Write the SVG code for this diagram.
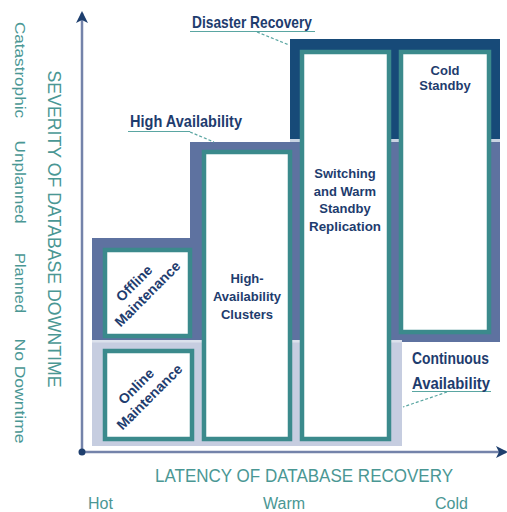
<svg xmlns="http://www.w3.org/2000/svg" width="507" height="512" viewBox="0 0 507 512">
<defs>
<marker id="arr" viewBox="0 0 12 12" refX="10" refY="6" markerWidth="12" markerHeight="12" markerUnits="userSpaceOnUse" orient="auto">
<path d="M0,0 L12,6 L0,12 L3,6 Z" fill="#1e3f6e"/>
</marker>
</defs>
<style>
.box{fill:#ffffff;stroke:#3b8a8c;stroke-width:4.5}
.ax{font-family:"Liberation Sans",Arial,sans-serif;fill:#4a9794}
.lbl{font-family:"Liberation Sans",Arial,sans-serif;font-weight:bold;fill:#1e3c6e;font-size:17px}
.nt{font-family:"Liberation Sans",Arial,sans-serif;font-weight:bold;fill:#1e3c6e;font-size:13px;text-anchor:middle}
.rt{font-family:"Liberation Sans",Arial,sans-serif;font-weight:bold;fill:#1e3c6e;font-size:14px;text-anchor:middle}
.ul{stroke:#5aa6a2;stroke-width:1.2;fill:none}
.ld{stroke:#5aa6a2;stroke-width:1.2;fill:none;stroke-dasharray:3 2}
</style>
<!-- background bands -->
<g id="bands">
<rect x="92" y="342" width="310" height="104" fill="#c6cde0"/>
<path d="M92,238 H190 V142 H290 V140 H500 V342 H92 Z" fill="#5e72a0"/>
<rect x="290" y="39" width="210" height="101" fill="#174a78"/>
<rect x="290" y="139" width="210" height="3" fill="#c9d3e2"/>
<rect x="92" y="340" width="310" height="2.5" fill="#dbe1ec"/>
</g>
<!-- axes -->
<g id="connectors">
<line x1="82" y1="452" x2="82" y2="13" stroke="#7483aa" stroke-width="2.5" marker-end="url(#arr)"/>
<line x1="82" y1="452" x2="506" y2="452" stroke="#7483aa" stroke-width="2.5" marker-end="url(#arr)"/>
<circle cx="82" cy="452" r="3.5" fill="#1e3f6e"/>
<line class="ul" x1="190" y1="31.5" x2="315" y2="31.5"/>
<line class="ld" x1="257" y1="32" x2="289" y2="45"/>
<line class="ul" x1="128" y1="131.5" x2="190" y2="131.5"/>
<line class="ld" x1="190" y1="132" x2="214" y2="142"/>
<line class="ul" x1="412" y1="391.5" x2="491" y2="391.5"/>
<line class="ld" x1="447" y1="392" x2="403" y2="407"/>
</g>
<!-- nodes -->
<g id="offline">
<rect class="box" x="105" y="250" width="85" height="86"/>
<g transform="translate(146,291) rotate(-45)">
<text class="rt" x="-3" y="-9">Offline</text>
<text class="rt" x="-1" y="8" textLength="86" lengthAdjust="spacingAndGlyphs">Maintenance</text>
</g>
</g>
<g id="online">
<rect class="box" x="105" y="351" width="87" height="88"/>
<g transform="translate(148,394) rotate(-45)">
<text class="rt" x="-3" y="-9">Online</text>
<text class="rt" x="-1" y="8" textLength="86" lengthAdjust="spacingAndGlyphs">Maintenance</text>
</g>
</g>
<g id="ha-clusters">
<rect class="box" x="204" y="152" width="86" height="287"/>
<text class="nt" x="247" y="283">High-</text>
<text class="nt" x="247" y="301">Availability</text>
<text class="nt" x="247" y="319">Clusters</text>
</g>
<g id="switching">
<rect class="box" x="302" y="52" width="87" height="387"/>
<text class="nt" x="345" y="178">Switching</text>
<text class="nt" x="345" y="195.5">and Warm</text>
<text class="nt" x="345" y="213">Standby</text>
<text class="nt" x="345" y="230.5" textLength="72" lengthAdjust="spacingAndGlyphs">Replication</text>
</g>
<g id="cold-standby">
<rect class="box" x="401" y="52" width="88" height="280"/>
<text class="nt" x="445" y="75">Cold</text>
<text class="nt" x="445" y="90">Standby</text>
</g>
<!-- labels -->
<g id="labels">
<text class="lbl" x="192" y="28" textLength="120" lengthAdjust="spacingAndGlyphs">Disaster Recovery</text>
<text class="lbl" x="130" y="127" textLength="112" lengthAdjust="spacingAndGlyphs">High Availability</text>
<text class="lbl" x="412" y="364" textLength="77" lengthAdjust="spacingAndGlyphs">Continuous</text>
<text class="lbl" x="412" y="389" textLength="78" lengthAdjust="spacingAndGlyphs">Availability</text>
</g>
<!-- axis texts -->
<g id="axis-text">
<text class="ax" font-size="15" text-anchor="middle" transform="translate(15,70) rotate(90)" textLength="96" lengthAdjust="spacingAndGlyphs">Catastrophic</text>
<text class="ax" font-size="15" text-anchor="middle" transform="translate(15,182) rotate(90)" textLength="83" lengthAdjust="spacingAndGlyphs">Unplanned</text>
<text class="ax" font-size="15" text-anchor="middle" transform="translate(15,283) rotate(90)" textLength="60" lengthAdjust="spacingAndGlyphs">Planned</text>
<text class="ax" font-size="15" text-anchor="middle" transform="translate(15,391) rotate(90)" textLength="105" lengthAdjust="spacingAndGlyphs">No Downtime</text>
<text class="ax" font-size="18" text-anchor="middle" transform="translate(48,229) rotate(90)" textLength="317" lengthAdjust="spacingAndGlyphs">SEVERITY OF DATABASE DOWNTIME</text>
<text class="ax" font-size="18" text-anchor="middle" x="304" y="482" textLength="298" lengthAdjust="spacingAndGlyphs">LATENCY OF DATABASE RECOVERY</text>
<text class="ax" font-size="16" x="88" y="509">Hot</text>
<text class="ax" font-size="16" x="263" y="509">Warm</text>
<text class="ax" font-size="16" x="435" y="509">Cold</text>
</g>
</svg>
